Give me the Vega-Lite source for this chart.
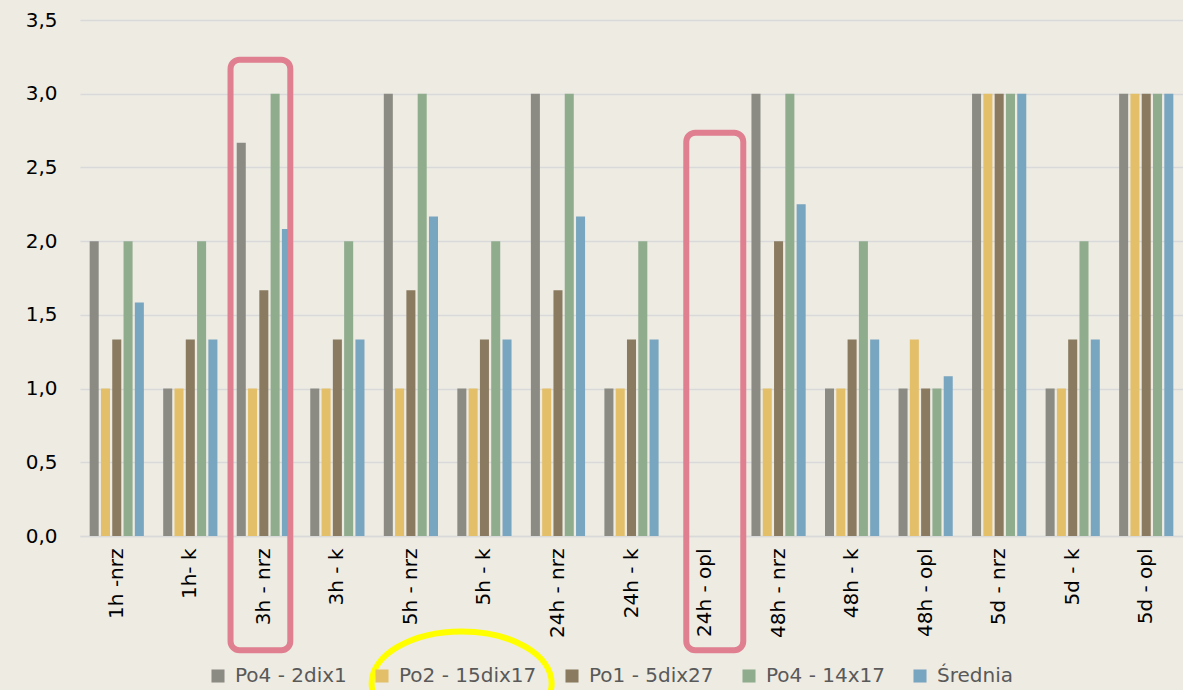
{
  "$schema": "https://vega.github.io/schema/vega-lite/v6.json",
  "width": 1103,
  "height": 516,
  "autosize": {"type": "none"},
  "padding": {"left": 80, "top": 20, "right": 0, "bottom": 154},
  "background": "#EEEBE3",
  "config": {
    "view": {"stroke": null},
    "font": "DejaVu Sans"
  },
  "datasets": {
    "wyniki": [
      {"czas": "1h -nrz", "seria": "Po4 - 2dix1", "ocena": 2},
      {"czas": "1h -nrz", "seria": "Po2 - 15dix17", "ocena": 1},
      {"czas": "1h -nrz", "seria": "Po1 - 5dix27", "ocena": 1.333},
      {"czas": "1h -nrz", "seria": "Po4 - 14x17", "ocena": 2},
      {"czas": "1h -nrz", "seria": "Średnia", "ocena": 1.583},
      {"czas": "1h- k", "seria": "Po4 - 2dix1", "ocena": 1},
      {"czas": "1h- k", "seria": "Po2 - 15dix17", "ocena": 1},
      {"czas": "1h- k", "seria": "Po1 - 5dix27", "ocena": 1.333},
      {"czas": "1h- k", "seria": "Po4 - 14x17", "ocena": 2},
      {"czas": "1h- k", "seria": "Średnia", "ocena": 1.333},
      {"czas": "3h - nrz", "seria": "Po4 - 2dix1", "ocena": 2.667},
      {"czas": "3h - nrz", "seria": "Po2 - 15dix17", "ocena": 1},
      {"czas": "3h - nrz", "seria": "Po1 - 5dix27", "ocena": 1.667},
      {"czas": "3h - nrz", "seria": "Po4 - 14x17", "ocena": 3},
      {"czas": "3h - nrz", "seria": "Średnia", "ocena": 2.083},
      {"czas": "3h - k", "seria": "Po4 - 2dix1", "ocena": 1},
      {"czas": "3h - k", "seria": "Po2 - 15dix17", "ocena": 1},
      {"czas": "3h - k", "seria": "Po1 - 5dix27", "ocena": 1.333},
      {"czas": "3h - k", "seria": "Po4 - 14x17", "ocena": 2},
      {"czas": "3h - k", "seria": "Średnia", "ocena": 1.333},
      {"czas": "5h - nrz", "seria": "Po4 - 2dix1", "ocena": 3},
      {"czas": "5h - nrz", "seria": "Po2 - 15dix17", "ocena": 1},
      {"czas": "5h - nrz", "seria": "Po1 - 5dix27", "ocena": 1.667},
      {"czas": "5h - nrz", "seria": "Po4 - 14x17", "ocena": 3},
      {"czas": "5h - nrz", "seria": "Średnia", "ocena": 2.167},
      {"czas": "5h - k", "seria": "Po4 - 2dix1", "ocena": 1},
      {"czas": "5h - k", "seria": "Po2 - 15dix17", "ocena": 1},
      {"czas": "5h - k", "seria": "Po1 - 5dix27", "ocena": 1.333},
      {"czas": "5h - k", "seria": "Po4 - 14x17", "ocena": 2},
      {"czas": "5h - k", "seria": "Średnia", "ocena": 1.333},
      {"czas": "24h - nrz", "seria": "Po4 - 2dix1", "ocena": 3},
      {"czas": "24h - nrz", "seria": "Po2 - 15dix17", "ocena": 1},
      {"czas": "24h - nrz", "seria": "Po1 - 5dix27", "ocena": 1.667},
      {"czas": "24h - nrz", "seria": "Po4 - 14x17", "ocena": 3},
      {"czas": "24h - nrz", "seria": "Średnia", "ocena": 2.167},
      {"czas": "24h - k", "seria": "Po4 - 2dix1", "ocena": 1},
      {"czas": "24h - k", "seria": "Po2 - 15dix17", "ocena": 1},
      {"czas": "24h - k", "seria": "Po1 - 5dix27", "ocena": 1.333},
      {"czas": "24h - k", "seria": "Po4 - 14x17", "ocena": 2},
      {"czas": "24h - k", "seria": "Średnia", "ocena": 1.333},
      {"czas": "48h - nrz", "seria": "Po4 - 2dix1", "ocena": 3},
      {"czas": "48h - nrz", "seria": "Po2 - 15dix17", "ocena": 1},
      {"czas": "48h - nrz", "seria": "Po1 - 5dix27", "ocena": 2},
      {"czas": "48h - nrz", "seria": "Po4 - 14x17", "ocena": 3},
      {"czas": "48h - nrz", "seria": "Średnia", "ocena": 2.25},
      {"czas": "48h - k", "seria": "Po4 - 2dix1", "ocena": 1},
      {"czas": "48h - k", "seria": "Po2 - 15dix17", "ocena": 1},
      {"czas": "48h - k", "seria": "Po1 - 5dix27", "ocena": 1.333},
      {"czas": "48h - k", "seria": "Po4 - 14x17", "ocena": 2},
      {"czas": "48h - k", "seria": "Średnia", "ocena": 1.333},
      {"czas": "48h - opl", "seria": "Po4 - 2dix1", "ocena": 1},
      {"czas": "48h - opl", "seria": "Po2 - 15dix17", "ocena": 1.333},
      {"czas": "48h - opl", "seria": "Po1 - 5dix27", "ocena": 1},
      {"czas": "48h - opl", "seria": "Po4 - 14x17", "ocena": 1},
      {"czas": "48h - opl", "seria": "Średnia", "ocena": 1.083},
      {"czas": "5d - nrz", "seria": "Po4 - 2dix1", "ocena": 3},
      {"czas": "5d - nrz", "seria": "Po2 - 15dix17", "ocena": 3},
      {"czas": "5d - nrz", "seria": "Po1 - 5dix27", "ocena": 3},
      {"czas": "5d - nrz", "seria": "Po4 - 14x17", "ocena": 3},
      {"czas": "5d - nrz", "seria": "Średnia", "ocena": 3},
      {"czas": "5d - k", "seria": "Po4 - 2dix1", "ocena": 1},
      {"czas": "5d - k", "seria": "Po2 - 15dix17", "ocena": 1},
      {"czas": "5d - k", "seria": "Po1 - 5dix27", "ocena": 1.333},
      {"czas": "5d - k", "seria": "Po4 - 14x17", "ocena": 2},
      {"czas": "5d - k", "seria": "Średnia", "ocena": 1.333},
      {"czas": "5d - opl", "seria": "Po4 - 2dix1", "ocena": 3},
      {"czas": "5d - opl", "seria": "Po2 - 15dix17", "ocena": 3},
      {"czas": "5d - opl", "seria": "Po1 - 5dix27", "ocena": 3},
      {"czas": "5d - opl", "seria": "Po4 - 14x17", "ocena": 3},
      {"czas": "5d - opl", "seria": "Średnia", "ocena": 3}
    ],
    "ramki": [
      {"czas": "3h - nrz", "od": 2.047, "do": 2.86, "gora": 3.23, "dol": -0.775},
      {"czas": "24h - opl", "od": 8.245, "do": 9.02, "gora": 2.735, "dol": -0.775}
    ],
    "elipsa": [
      {"pozycja": 5.19, "poziom": -1.0}
    ]
  },
  "layer": [
    {
      "data": {"name": "wyniki"},
      "mark": {"type": "bar"},
      "encoding": {
        "x": {
          "field": "czas",
          "type": "nominal",
          "scale": {
            "domain": ["1h -nrz", "1h- k", "3h - nrz", "3h - k", "5h - nrz", "5h - k", "24h - nrz", "24h - k", "24h - opl", "48h - nrz", "48h - k", "48h - opl", "5d - nrz", "5d - k", "5d - opl"],
            "paddingInner": 0.12,
            "paddingOuter": 0.06
          },
          "axis": {
            "title": null,
            "labelAngle": -90,
            "labelFontSize": 20,
            "labelColor": "#000000",
            "labelPadding": 12,
            "ticks": false,
            "domainColor": "#D9D9D9",
            "domainWidth": 1.5,
            "grid": false
          }
        },
        "xOffset": {
          "field": "seria",
          "type": "nominal",
          "sort": ["Po4 - 2dix1", "Po2 - 15dix17", "Po1 - 5dix27", "Po4 - 14x17", "Średnia"],
          "scale": {"paddingInner": 0.2, "paddingOuter": 0.465}
        },
        "y": {
          "field": "ocena",
          "type": "quantitative",
          "scale": {"domain": [0, 3.5], "nice": false},
          "axis": {
            "title": null,
            "values": [0, 0.5, 1, 1.5, 2, 2.5, 3, 3.5],
            "labelExpr": "replace(format(datum.value, '.1f'), '.', ',')",
            "labelFontSize": 20,
            "labelColor": "#000000",
            "labelPadding": 23,
            "ticks": false,
            "domain": false,
            "gridColor": "#D9D9D9",
            "gridWidth": 1.5
          }
        },
        "color": {
          "field": "seria",
          "type": "nominal",
          "scale": {
            "domain": ["Po4 - 2dix1", "Po2 - 15dix17", "Po1 - 5dix27", "Po4 - 14x17", "Średnia"],
            "range": ["#8B8B83", "#E4BF69", "#8A7B60", "#8FAC8D", "#78A5BF"]
          },
          "legend": {
            "title": null,
            "orient": "none",
            "direction": "horizontal",
            "legendX": 128,
            "legendY": 646,
            "padding": 0,
            "symbolType": "square",
            "symbolSize": 170,
            "symbolStrokeWidth": 0,
            "labelFontSize": 20,
            "labelColor": "#595959",
            "labelOffset": 7,
            "columnPadding": 25
          }
        }
      }
    },
    {
      "layer": [
        {
          "data": {"name": "ramki"},
          "mark": {"type": "rect", "filled": false, "stroke": "#E07F8F", "strokeWidth": 6, "cornerRadius": 9},
          "encoding": {
            "x": {"field": "od", "type": "quantitative", "scale": {"domain": [0, 15], "nice": false, "zero": false}, "axis": null},
            "x2": {"field": "do"},
            "y": {"field": "gora", "type": "quantitative"},
            "y2": {"field": "dol"}
          }
        },
        {
          "data": {"name": "elipsa"},
          "mark": {
            "type": "point",
            "shape": "M-1,0A1,0.578,0,0,1,1,0A1,0.578,0,0,1,-1,0Z",
            "size": 32400,
            "filled": false,
            "stroke": "#FFFF00",
            "strokeWidth": 6,
            "opacity": 1
          },
          "encoding": {
            "x": {"field": "pozycja", "type": "quantitative"},
            "y": {"field": "poziom", "type": "quantitative"}
          }
        }
      ]
    }
  ],
  "resolve": {"scale": {"x": "independent"}}
}
